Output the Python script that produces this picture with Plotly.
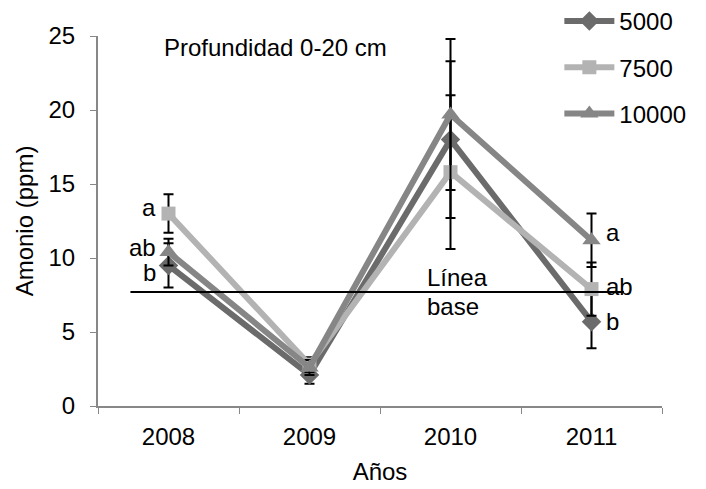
import plotly.graph_objects as go

years = ["2008", "2009", "2010", "2011"]
s5000 = [9.5, 2.1, 18.0, 5.7]
s5000_err = [1.5, 0.6, 5.3, 1.8]
s7500 = [13.0, 2.8, 15.8, 7.9]
s7500_err = [1.3, 0.5, 5.2, 1.8]
s10000 = [10.4, 2.6, 19.7, 11.2]
s10000_err = [0.9, 0.5, 5.1, 1.8]
baseline = 7.7
labels_2008 = [("a", 13.4), ("ab", 10.7), ("b", 9.0)]
labels_2011 = [("a", 11.7), ("ab", 8.1), ("b", 5.7)]

FONT = "Liberation Sans, Arial, sans-serif"
FS = 24
series = [
    ("5000", s5000, s5000_err, "#6b6b6b", "diamond", 15),
    ("7500", s7500, s7500_err, "#b3b3b3", "square", 14),
    ("10000", s10000, s10000_err, "#868686", "triangle-up", 16),
]

fig = go.Figure()
for i, (name, vals, err, col, sym, sz) in enumerate(series):
    fig.add_trace(go.Scatter(
        x=years, y=vals, name=name, mode="lines+markers",
        line=dict(color=col, width=6),
        marker=dict(symbol=sym, size=sz, color=col),
        error_y=dict(type="data", array=err, color="black", thickness=2, width=5),
        legendgroup=name,
    ))

fig.add_shape(type="line", xref="x", yref="y", x0=-0.27, x1=3.23,
              y0=baseline, y1=baseline, line=dict(color="black", width=2))

i08 = years.index("2008")
i10 = years.index("2010")
i11 = years.index("2011")
ann = []
for t, v in labels_2008:
    ann.append(dict(x=i08, y=v, text=t, showarrow=False, xanchor="right",
                    xshift=-11, font=dict(size=FS, color="black", family=FONT)))
for t, v in labels_2011:
    ann.append(dict(x=i11, y=v, text=t, showarrow=False, xanchor="left",
                    xshift=12, font=dict(size=FS, color="black", family=FONT)))
ann.append(dict(xref="paper", yref="paper", x=0.113, y=0.968, text="Profundidad 0-20 cm",
                showarrow=False, xanchor="left", yanchor="middle",
                font=dict(size=FS, color="black", family=FONT)))
ann.append(dict(x=i10, y=baseline, text="Línea", showarrow=False, xanchor="left",
                yanchor="bottom", yshift=-1, xshift=-26, font=dict(size=FS, color="black", family=FONT)))
ann.append(dict(x=i10, y=baseline, text="base", showarrow=False, xanchor="left",
                yanchor="top", yshift=1, xshift=-26, font=dict(size=FS, color="black", family=FONT)))

fig.update_layout(
    width=706, height=489,
    margin=dict(l=98, r=44, t=36, b=83, autoexpand=False),
    plot_bgcolor="white", paper_bgcolor="white",
    font=dict(family=FONT, size=FS, color="black"),
    annotations=ann,
    showlegend=True,
    legend=dict(x=0.818, y=1.1, xanchor="left", yanchor="top",
                bgcolor="rgba(0,0,0,0)", font=dict(size=FS),
                traceorder="grouped", tracegroupgap=12, itemwidth=50),
    xaxis=dict(type="category", tickson="boundaries", ticks="outside", ticklen=6,
               tickcolor="#888888", showline=True, linecolor="#888888", linewidth=2,
               showgrid=False, range=[-0.5, 3.5], ticklabelstandoff=8,
               title=dict(text="Años", font=dict(size=FS), standoff=14),
               tickfont=dict(size=FS)),
    yaxis=dict(range=[0, 25], tickvals=[0, 5, 10, 15, 20, 25], ticks="outside", ticklen=6,
               tickcolor="#888888", showline=True, linecolor="#888888", linewidth=2,
               showgrid=False, zeroline=False, ticklabelstandoff=10,
               title=dict(text="Amonio (ppm)", font=dict(size=FS), standoff=8),
               tickfont=dict(size=FS)),
)

fig.write_html("out.html")
